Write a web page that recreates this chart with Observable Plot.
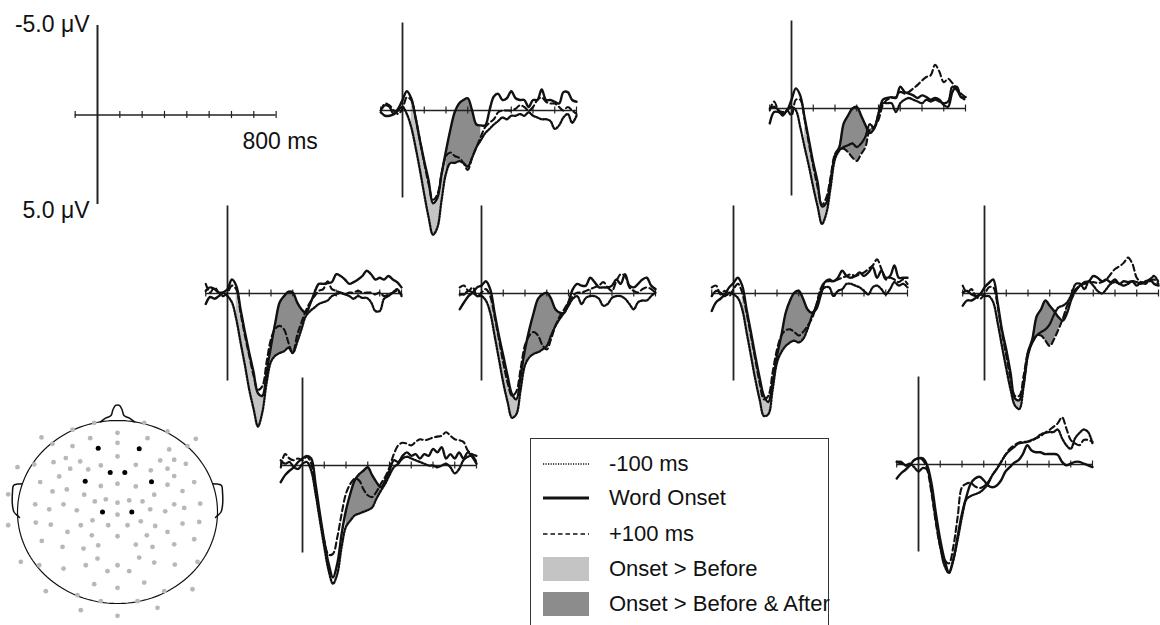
<!DOCTYPE html>
<html><head><meta charset="utf-8">
<script src="https://cdn.jsdelivr.net/npm/d3@7"></script>
<script src="https://cdn.jsdelivr.net/npm/@observablehq/plot@0.6"></script>
<style>
html,body{margin:0;padding:0;background:#fff;overflow:hidden}
#fig{position:relative;width:1160px;height:625px;overflow:hidden;font-family:"Liberation Sans",Arial,sans-serif;color:#111}
#fig > svg{position:absolute;left:0;top:0;overflow:visible;background:transparent;max-width:none}
.legend{position:absolute;left:530px;top:438px;width:299px;height:200px;border:1.5px solid #333;box-sizing:border-box;background:#fff}
.legend .row{position:absolute;left:0;height:30px;width:100%}
.legend .row svg{position:absolute;left:12px;top:3px}
.legend .row span{position:absolute;left:78px;top:0;line-height:30px;font-size:22px;white-space:nowrap}
</style></head><body><div id="fig"></div>
<script>
// ---------- data ----------
const times = [-100,-80,-60,-40,-20,0,20,40,60,80,100,120,140,160,180,200,220,240,260,280,300,320,340,360,380,400,420,440,460,480,500,520,540,560,580,600,620,640,660,680,700,720,740,760,780,800];
const tickTimes = [-100,100,200,300,400,500,600,700,800];
const scaleLabels = ["-5.0 μV", "5.0 μV", "800 ms"];
const legendLabels = ["-100 ms", "Word Onset", "+100 ms", "Onset > Before", "Onset > Before & After"];

// panel 1 (top middle)
const p1Onset  = [0.1,0.3,0.3,0.2,-0.1,-0.6,-1.1,-0.7,0.4,1.7,2.9,4.0,5.3, 5.0,3.6,2.3,1.1,0.1,-0.4,-0.6,-0.7,0,0.8,0.85,0.85,0, -0.8,-0.95,-0.6,-0.7,-1.1,-0.7,-0.6,-0.6,-0.2,-0.6,-0.6,-1.2,-0.6, -0.6,-0.5,-0.4,-1.05,-1.05,-0.6,-0.5];
const p1Before = [0,-0.3,-0.2,0.2,0,-0.2,0.2,0.95,2.1,3.4,4.8,6.1,7.1, 6.7,5.1,3.6,3.0,3.0,2.9,3.0,3.2,2.7,2.1,1.7,1.3,1.05, 0.8,0.6,0.4,0.5,0.3,0.3,0.2,0.3,0.1,0.3,0.4,0.5,0.5, 0.6,1.05,0.85,0.4,0.2,0.7,0.3];
const p1After  = [0,-0.4,-0.3,0,0.2,-0.1,-0.75,-0.6,0.4,1.7,3.0,4.2,5.1, 4.8,3.6,2.6,2.4,2.6,2.7,3.0,3.4,2.7,2.1,1.5,0.95,0.7, 0.5,0.1,0,0,0,-0.1,-0.3,-0.2,0,-0.2,-0.6,-0.75,-0.5, -0.4,-0.4,-0.2,0,-0.2,0,0.2];
// panel 2 (top right)
const p2Onset  = [0.85,0.2,0.2,0.3,0.1,-0.5,-1.15,-0.75,0.5,1.8,3.1,4.2,5.6, 5.4,4.1,2.7,2.2,0.85,0.4,0,-0.1,0.4,0.95,1.4,1.15,0.3, -0.5,-0.6,-0.65,-0.6,-1.25,-0.95,-0.85,-0.75,-0.6,-0.75,-0.65,-0.5,-0.6, -0.5,-0.2,-0.1,-0.95,-1.25,-0.65,-0.65];
const p2Before = [0,-0.1,0.1,0.4,0.1,-0.1,0.1,1.05,2.2,3.3,4.5,5.6,6.6, 6.0,4.5,2.9,2.4,2.2,2.1,2.0,2.2,2.0,1.6,0.9,1.1,0.3, -0.3,-0.3,-0.3,0.2,-0.3,-0.5,-0.6,-0.5,-0.4,-0.3,-0.5,-0.4,-0.5, -0.4,-0.3,-0.4,-1.25,-1.05,-0.65,-0.5];
const p2After  = [0.1,-0.4,0.1,0.2,0.1,0.4,-0.5,-0.5,0.6,2.0,3.3,4.5,5.5, 5.1,3.9,2.6,2.3,2.3,2.5,2.8,3.0,2.6,2.2,1.2,1.05,0.65, -0.2,-0.5,-0.6,-0.65,-0.95,-0.85,-0.95,-1.15,-1.35,-1.6,-1.8,-1.9,-2.5, -2.1,-1.5,-1.7,-1.45,-1.15,-0.85,-0.65];
// panel 3 (middle row, 1st)
const p3Onset  = [0.6,0.2,0.3,0.15,-0.05,-0.25,-0.8,-0.45,0.9,2.2,3.4,4.5,5.7, 5.85,4.5,3.0,1.65,0.5,0.15,-0.1,-0.05,0.5,0.9,1.1,0.6,-0.05, -0.55,-0.55,-0.6,-0.65,-1.1,-1.0,-0.8,-0.55,-0.65,-0.8,-1.0,-1.3,-1.1, -0.8,-0.9,-0.8,-1.0,-0.8,-0.65,-0.35];
const p3Before = [-0.15,-0.35,-0.25,-0.05,-0.05,0.15,0.5,1.45,2.8,4.1,5.5,6.6,7.6, 6.8,5.1,3.9,3.55,3.4,3.3,3.1,3.4,2.8,2.05,1.3,1.0,0.8, 0.6,0.5,0.4,0.15,0.05,-0.05,0.05,0.15,0.3,0.15,0.25,0.25,0.5, 1.0,1.0,0.3,0.15,-0.05,-0.25,0.15];
const p3After  = [-0.55,-0.05,-0.35,-0.05,0.15,-0.05,-0.45,-0.25,1.1,2.4,3.55,4.7,5.5, 5.3,3.9,2.6,2.0,1.85,2.05,2.8,3.4,2.4,1.65,1.0,0.5,0.15, -0.15,-0.25,-0.7,-0.25,-0.15,-0.05,0.05,-0.05,-0.05,-0.15,-0.05,-0.05,-0.05, 0.05,-0.05,0.15,0.05,-0.05,-0.15,0.05];
// panel 4 (middle row, 2nd)
const p4Onset  = [0.9,0.5,0.15,-0.05,-0.35,-0.45,-0.7,-0.25,1.1,2.4,3.55,4.7,5.75, 6.05,4.7,3.2,2.05,1.1,0.3,0.05,-0.05,0.3,0.9,1.1,1.1,0.5, -0.25,-0.55,-0.45,-0.45,-0.9,-0.65,-0.35,-0.35,-0.35,-0.45,-0.8,-0.55,-1.1, -0.45,-0.35,-0.55,-0.8,-0.9,-0.45,-0.25];
const p4Before = [0.05,0.05,-0.15,-0.05,0.15,0.15,0.4,1.1,2.4,3.75,5.1,6.2,7.1, 6.9,5.5,4.1,3.65,3.45,3.35,3.2,3.0,2.4,1.85,1.45,1.1,0.7, 0.3,0.15,0.6,0.25,0.15,0.15,0.3,0.7,0.6,0.25,0.15,0.15,0.3, 0.6,0.9,0.5,0.4,0.4,0.15,-0.05];
const p4After  = [-0.35,-0.45,-0.15,-0.35,0.15,-0.05,-0.25,0.15,1.3,2.6,3.95,5.1,5.85, 5.6,4.3,2.95,2.4,2.2,2.4,2.95,3.2,2.6,1.85,1.3,0.9,0.5, 0.15,-0.05,-0.05,-0.15,-0.25,-0.35,-0.45,-0.65,-0.35,-0.15,-0.7,-1.1,-1.0, -0.35,-0.15,-0.05,-0.25,-0.35,-0.25,-0.05];
// panel 5 (middle row, 3rd)
const p5Onset  = [1.0,0.5,0.3,0.05,-0.35,-0.6,-0.9,-0.45,0.9,2.2,3.55,4.8,5.85, 6.2,5.1,3.55,2.4,1.1,0.4,-0.05,-0.15,0.3,0.9,1.1,0.9,0.15, -0.65,-0.8,-0.7,-0.9,-1.3,-1.0,-0.9,-1.0,-1.2,-1.0,-1.2,-1.5,-0.9, -1.3,-0.9,-1.0,-1.6,-0.9,-0.9,-0.9];
const p5Before = [0.15,-0.15,-0.05,0.15,-0.05,0.05,0.25,0.9,2.2,3.55,4.9,6.05,7.0, 6.9,5.5,3.95,3.35,3.0,2.8,2.7,2.8,2.6,2.05,1.3,0.7,-0.05, -0.35,-0.35,0.15,-0.15,-0.25,-0.55,-0.55,-0.45,-0.35,-0.15,0.05,-0.35,-0.45, -0.25,0.05,-0.25,-0.65,-0.45,-0.55,-0.35];
const p5After  = [-0.35,-0.45,0.05,-0.15,0.15,-0.25,-0.55,-0.05,1.1,2.4,3.75,5.1,6.05, 5.85,4.5,3.2,2.4,2.1,2.05,2.2,2.4,2.2,1.85,1.45,0.7,-0.25, -0.65,-0.7,-0.7,-0.8,-0.9,-1.0,-1.1,-1.0,-1.1,-1.2,-1.4,-1.6,-1.95, -1.4,-0.8,-0.9,-0.8,-0.65,-0.8,-0.55];
// panel 6 (middle row, 4th)
const p6Onset  = [0.7,0.4,0.4,0.25,0.05,-0.35,-0.6,-0.8,0.5,2.05,3.2,4.55,6.0, 6.1,5.1,3.35,2.6,1.3,0.9,0.4,0.7,1.0,1.35,1.55,1.1,0.3, -0.25,-0.45,-0.65,-0.7,-1.0,-0.9,-0.7,-0.8,-0.65,-0.8,-0.55,-0.7,-0.65, -0.7,-0.45,-0.65,-0.55,-0.8,-0.55,-0.45];
const p6Before = [-0.05,-0.15,0.05,0.15,0.05,0.15,0.15,0.5,1.65,3.0,4.3,5.5,6.4, 6.6,5.3,3.55,2.8,2.4,2.2,2.05,1.75,1.2,0.8,0.7,0.5,0.05, -0.55,-0.55,-0.25,-0.7,-0.45,-0.15,0,-0.25,-0.55,-0.65,-0.55,-0.45,-0.55, -0.7,-0.65,-0.55,-0.7,-0.8,-1.0,-0.65];
const p6After  = [-0.45,-0.05,-0.25,0.15,0.3,0.05,-0.35,-0.35,0.7,2.2,3.55,4.9,5.85, 5.85,4.7,3.35,2.8,2.4,2.4,2.7,3.0,2.6,2.05,1.45,0.7,0.3, -0.15,-0.45,-0.55,-0.6,-0.65,-0.6,-0.65,-0.8,-1.1,-1.4,-1.55,-1.75,-2.05, -1.7,-0.9,-0.65,-0.6,-0.7,-0.8,-0.55];
// panel 7 (bottom left)
const p7Onset  = [0.95,0.55,0.3,0.1,-0.2,-0.4,-0.55,-0.4,1.05,2.75,4.3,5.6,6.4, 5.6,3.9,2.55,1.6,0.85,0.5,0.3,0.1,0.55,0.95,1.25,0.85,0.3, -0.3,-0.2,-0.55,-0.75,-0.55,-0.65,-0.4,-0.65,-0.55,-0.95,-0.75,-1.05,-0.4, -0.65,-0.4,-0.75,-0.4,-0.75,-0.5,-0.1];
const p7Before = [-0.3,-0.1,-0.2,0.1,0.2,-0.1,-0.2,0.3,1.6,3.15,4.65,6.0,6.75, 6.2,4.65,3.5,3.15,2.85,2.75,2.65,2.55,2.4,1.9,1.45,1.05,0.55, 0.1,-0.1,-0.4,-0.5,-0.4,-0.3,-0.2,-0.1,0,0,0.1,0,-0.1, 0.1,0.45,0.2,-0.3,-0.5,-0.55,-0.2];
const p7After  = [0.1,-0.65,-0.4,-0.3,-0.4,-0.3,-0.5,-0.1,1.45,2.95,4.3,5.1,5.05, 4.1,2.75,1.6,1.05,0.75,0.85,1.35,1.7,1.8,1.5,1.05,0.65,0.1, -0.65,-1.15,-1.3,-1.25,-1.15,-1.35,-1.5,-1.45,-1.5,-1.6,-1.65,-1.7,-1.9, -1.7,-1.5,-1.45,-1.35,-0.85,-0.65,-0.55];
// panel 8 (bottom right)
const p8Onset  = [0.8,0.5,0.3,0.05,-0.25,-0.35,-0.35,0.05,1.1,2.8,4.3,5.45,6.15, 5.45,4.1,2.8,1.85,1.1,0.8,0.7,0.9,1.2,1.3,1.2,0.9,0.4, 0.15,-0.1,-0.25,-0.6,-1.1,-0.8,-0.7,-0.7,-0.6,-0.6,-0.6,-0.55,-0.15, 0.05,-0.05,-0.15,-0.15,-0.05,0.05,0.15];
const p8Before = [-0.15,-0.15,0.05,-0.05,0.15,0.4,0.2,0.3,1.5,3.2,4.7,5.8,6.2, 5.45,4.3,3.0,2.0,1.8,1.7,1.6,1.4,1.1,0.6,0.25,-0.15,-0.55, -0.8,-1.0,-1.2,-1.25,-1.3,-1.4,-1.5,-1.7,-1.8,-1.85,-1.85,-2.0,-1.5, -1.1,-0.9,-1.5,-1.8,-2.0,-1.85,-1.2];
const p8After  = [-0.15,-0.05,0.05,0.05,-0.25,-0.35,-0.25,0.3,1.65,3.35,4.7,5.45,5.65, 4.7,3.0,1.3,1.1,1.05,1.25,1.35,1.25,1.0,0.6,0.25,-0.15,-0.55, -0.9,-1.1,-1.25,-1.3,-1.3,-1.35,-1.5,-1.6,-1.8,-1.95,-2.15,-2.35,-2.7, -2.05,-1.4,-1.2,-1.1,-1.4,-1.4,-1.3];

// significance windows (ms)
const lightWindows = [[40,200],[60,200],[40,200],[40,200],[40,200],[60,200],null,null];
const darkWindows  = [[200,360],[220,400],[200,380],[200,380],[200,380],[220,380],[200,360],null];

// electrode positions on the head map (head-radius units, +y = back of head)
const greyX = [-0.233,0.267,-0.76,-0.45,-0.273,0,0.30,0.50,0.783,-0.65,-0.45,0,0.517,0.70,-0.517,-0.64,-0.373,-0.167,0,0.183,0.427,0.567,0.683,-1.0,-0.833,-0.473,-0.293,0.333,0.50,0.567,-0.773,-0.583,-0.167,0,0.183,0.50,0.767,-1.093,-0.65,-0.507,-0.333,-0.227,-0.117,0,0.117,0.25,0.367,0.65,-0.823,-0.683,-0.54,-0.407,0,0.327,0.477,0.567,0.667,0.827,-1.093,-0.817,-0.667,-0.50,-0.367,-0.25,-0.093,0.10,0.233,0.377,0.65,0.817,-0.757,-0.55,-0.34,-0.257,-0.193,0,0.183,0.293,0.35,0.50,0.567,0.767,-0.967,-0.783,-0.54,-0.317,-0.20,-0.10,0,0.117,0.217,0.367,0.573,0.80,-0.717,-0.233,0,0.267,0.467,0.75,-0.40,-0.167,0.20,-0.367,0,0.40];
const greyY = [-0.975,-0.975,-0.815,-0.90,-0.807,-0.865,-0.807,-0.88,-0.80,-0.745,-0.72,-0.756,-0.684,-0.72,-0.589,-0.545,-0.553,-0.509,-0.607,-0.516,-0.564,-0.571,-0.527,-0.49,-0.52,-0.473,-0.465,-0.455,-0.473,-0.393,-0.327,-0.389,-0.284,-0.309,-0.28,-0.298,-0.327,-0.193,-0.225,-0.247,-0.189,-0.116,-0.138,-0.102,-0.127,-0.116,-0.189,-0.229,-0.084,-0.029,-0.084,-0.018,0.029,-0.029,-0.007,-0.084,-0.044,-0.091,0.145,0.116,0.138,0.218,0.145,0.091,0.145,0.145,0.102,0.153,0.127,0.109,0.316,0.382,0.40,0.255,0.364,0.265,0.356,0.255,0.382,0.218,0.353,0.298,0.545,0.582,0.618,0.582,0.509,0.647,0.582,0.647,0.498,0.553,0.575,0.545,0.865,0.789,0.829,0.771,0.865,0.844,0.909,0.975,0.975,1.073,1.135,1.047];
const blackX = [-0.193,0.217,-0.073,0.073,-0.323,0.34,-0.15,0.143];
const blackY = [-0.698,-0.691,-0.433,-0.433,-0.335,-0.331,0,0];

// ---------- layout & style ----------
const panelOrigins = [[402,110],[791,108],[227,293],[481,293],[733,293],[984,293],[302,465],[918,464]];
const K = 0.2175, V = 17.5;       // px per ms, px per µV
const INK = "#111", LIGHT = "#c4c4c4", DARK = "#8c8c8c";
const FONT = "'Liberation Sans', Arial, sans-serif";
const fig = document.getElementById("fig");

const panels = [
  [p1Onset,p1Before,p1After],[p2Onset,p2Before,p2After],[p3Onset,p3Before,p3After],[p4Onset,p4Before,p4After],
  [p5Onset,p5Before,p5After],[p6Onset,p6Before,p6After],[p7Onset,p7Before,p7After],[p8Onset,p8Before,p8After]
];

function frame(x0, y0, k, v) {
  return {
    width: 1160, height: 625,
    marginLeft: x0 - 100 * k, marginRight: 1160 - (x0 + 800 * k),
    marginTop: y0 - 5 * v, marginBottom: 625 - (y0 + 5 * v),
    x: {domain: [-100, 800], axis: null},
    y: {domain: [5, -5], axis: null},
    style: {background: "transparent", overflow: "visible", fontFamily: FONT}
  };
}
function axisMarks(sw) {
  return [
    Plot.ruleY([0], {x1: -100, x2: 800, stroke: "#222", strokeWidth: 1.5}),
    Plot.ruleX(tickTimes, {x: d => d, y1: -0.2, y2: 0.2, stroke: "#222", strokeWidth: 1.2}),
    Plot.ruleX([0], {y1: -5, y2: 5, stroke: "#222", strokeWidth: sw})
  ];
}

panels.forEach(([on, be, af], p) => {
  const rows = times.map((t, i) => ({t, on: on[i], be: be[i], af: af[i]}));
  const marks = [];
  const lw = lightWindows[p], dw = darkWindows[p];
  if (lw) marks.push(Plot.areaY(rows.filter(d => d.t >= lw[0] && d.t <= lw[1]),
    {x: "t", y1: "on", y2: "be", fill: LIGHT, curve: "catmull-rom"}));
  if (dw) marks.push(Plot.areaY(rows.filter(d => d.t >= dw[0] && d.t <= dw[1]),
    {x: "t", y1: "on", y2: d => Math.max(d.be, d.af), fill: DARK, curve: "catmull-rom"}));
  marks.push(...axisMarks(1.8));
  marks.push(Plot.line(rows, {x: "t", y: "be", stroke: INK, strokeWidth: 2.3, strokeDasharray: "1.6,1.6", curve: "catmull-rom"}));
  marks.push(Plot.line(rows, {x: "t", y: "af", stroke: INK, strokeWidth: 2.1, strokeDasharray: "6,3.5", curve: "catmull-rom"}));
  marks.push(Plot.line(rows, {x: "t", y: "on", stroke: INK, strokeWidth: 2.4, curve: "catmull-rom"}));
  const [x0, y0] = panelOrigins[p];
  fig.appendChild(Plot.plot({...frame(x0, y0, K, V), marks}));
});

// scale bar
fig.appendChild(Plot.plot({...frame(97, 114.5, 0.2233, 17.9), marks: [
  ...axisMarks(2),
  Plot.text([scaleLabels[0]], {x: 0, y: -5, text: d => d, textAnchor: "end", dx: -8, dy: -1, fontSize: 23, fill: INK}),
  Plot.text([scaleLabels[1]], {x: 0, y: 5, text: d => d, textAnchor: "end", dx: -8, dy: 6, fontSize: 23, fill: INK}),
  Plot.text([scaleLabels[2]], {x: 800, y: 0, text: d => d, textAnchor: "middle", dx: 4, dy: 27, fontSize: 23, fill: INK})
]}));

// head map
const headCx = 117, headCy = 511.5, headRx = 100, headRy = 91.5;
const circle = d3.range(0, 361, 2).map(a => ({x: Math.cos(a * Math.PI / 180), y: Math.sin(a * Math.PI / 180)}));
const nose = [[-0.17,-0.985],[-0.12,-1.025],[-0.065,-1.055],[-0.045,-1.12],[-0.02,-1.165],[0,-1.17],[0.02,-1.165],[0.045,-1.12],[0.065,-1.055],[0.12,-1.025],[0.17,-0.985]].map(([x,y]) => ({x,y}));
const earL = [[-0.955,-0.31],[-1.0,-0.305],[-1.04,-0.29],[-1.05,-0.22],[-1.05,-0.07],[-1.035,0],[-1.0,0.04],[-0.98,0.06]].map(([x,y]) => ({x,y}));
const earR = earL.map(d => ({x: -d.x, y: d.y}));
const greys = greyX.map((x, i) => ({x, y: greyY[i]}));
const blacks = blackX.map((x, i) => ({x, y: blackY[i]}));
fig.appendChild(Plot.plot({
  width: 1160, height: 625,
  marginLeft: headCx - headRx, marginRight: 1160 - (headCx + headRx),
  marginTop: headCy - headRy, marginBottom: 625 - (headCy + headRy),
  x: {domain: [-1, 1], axis: null}, y: {domain: [1, -1], axis: null},
  style: {background: "transparent", overflow: "visible"},
  marks: [
    Plot.line(circle, {x: "x", y: "y", stroke: INK, strokeWidth: 1.2}),
    Plot.line(nose, {x: "x", y: "y", stroke: INK, strokeWidth: 1.5, curve: "catmull-rom"}),
    Plot.line(earL, {x: "x", y: "y", stroke: INK, strokeWidth: 1.5, curve: "catmull-rom"}),
    Plot.line(earR, {x: "x", y: "y", stroke: INK, strokeWidth: 1.5, curve: "catmull-rom"}),
    Plot.dot(greys, {x: "x", y: "y", r: 2.4, fill: "#b8b8b8"}),
    Plot.dot(blacks, {x: "x", y: "y", r: 2.5, fill: "#000"})
  ]
}));

// legend
const legend = document.createElement("div");
legend.className = "legend";
const rowTops = [10, 44, 80, 115, 150];
const swatch = [
  `<line x1="0" y1="12" x2="46" y2="12" stroke="${INK}" stroke-width="1.6" stroke-dasharray="1.2,1.3"/>`,
  `<line x1="0" y1="12" x2="46" y2="12" stroke="${INK}" stroke-width="2.8"/>`,
  `<line x1="0" y1="12" x2="46" y2="12" stroke="${INK}" stroke-width="1.6" stroke-dasharray="4.5,3"/>`,
  `<rect x="0" y="0" width="46" height="24" fill="${LIGHT}"/>`,
  `<rect x="0" y="0" width="46" height="24" fill="${DARK}"/>`
];
legendLabels.forEach((lab, i) => {
  const r = document.createElement("div");
  r.className = "row";
  r.style.top = rowTops[i] + "px";
  r.innerHTML = `<svg width="46" height="24">${swatch[i]}</svg><span></span>`;
  r.querySelector("span").textContent = lab;
  legend.appendChild(r);
});
fig.appendChild(legend);
</script>
</body></html>
